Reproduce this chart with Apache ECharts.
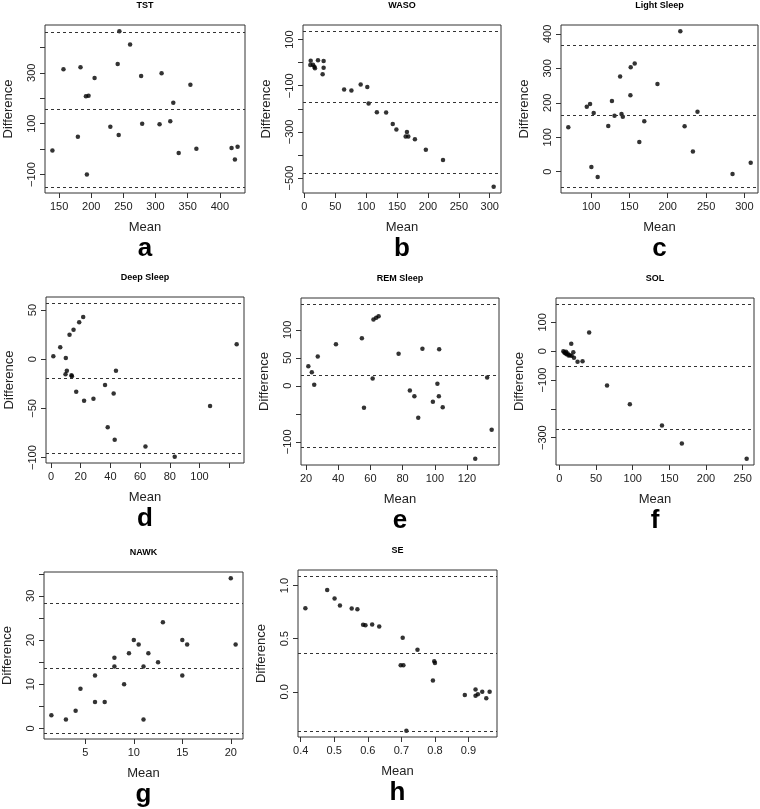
<!DOCTYPE html>
<html><head><meta charset="utf-8">
<script src="https://cdn.jsdelivr.net/npm/echarts@6/dist/echarts.min.js"></script>
<style>html,body{margin:0;padding:0;background:#fff}#c{width:760px;height:809px}</style>
</head><body><div id="c"></div>
<script>
// ---------- data ----------
const panelTitles  = ['TST','WASO','Light Sleep','Deep Sleep','REM Sleep','SOL','NAWK','SE'];
const panelLetters = ['a','b','c','d','e','f','g','h'];
const xAxisName = 'Mean';
const yAxisName = 'Difference';

// a: TST
const tstMean = [139.6,156.8,179.2,183.3,191.7,195.8,193.2,205.2,229.7,241.1,243.75,242.7,260.4,277.6,279.2,306.25,309.4,322.9,327.6,336.0,354.2,363.5,418.2,423.4,427.6];
const tstDiff = [-4.9,313.8,48.9,321.6,207.5,210.2,-99.3,279.7,88.2,334.8,463.3,55.4,410.8,287.5,100.0,97.4,298.0,109.2,182.6,-15.4,253.4,1.6,4.3,-40.3,9.5];
const tstLoA  = [460.7,156.4,-147.9];
const tstXTicks = [150,200,250,300,350,400], tstXLabels = [150,200,250,300,350,400];
const tstYTicks = [-100,0,100,200,300,400],  tstYLabels = [-100,100,300];

// b: WASO
const wasoMean = [10.2,9.6,13.9,16.1,17.1,22.0,31.1,31.1,29.5,64.3,76.1,91.1,101.8,103.9,117.3,132.3,143.0,148.9,166.0,163.9,168.2,178.9,196.6,224.4,306.4];
const wasoDiff = [8.7,-10.1,-8.7,-17.4,-24.6,10.1,7.2,-21.7,-50.7,-115.9,-120.3,-94.2,-105.8,-176.8,-214.5,-215.9,-265.2,-289.9,-300.0,-320.3,-320.3,-331.9,-376.8,-421.7,-537.7];
const wasoLoA  = [136.2,-172.5,-481.2];
const wasoXTicks = [0,50,100,150,200,250,300], wasoXLabels = [0,50,100,150,200,250,300];
const wasoYTicks = [-500,-400,-300,-200,-100,0,100], wasoYLabels = [-500,-300,-100,100];

// c: Light Sleep
const lightMean = [70.3,94.4,98.7,103.4,100.4,108.6,122.4,127.2,130.6,137.9,139.7,141.4,151.3,151.7,156.9,162.9,169.4,186.6,216.4,222.0,232.8,238.8,284.5,308.2];
const lightDiff = [128.8,188.9,196.6,170.5,13.6,-15.5,132.7,205.3,162.7,276.0,167.6,159.8,221.8,303.1,313.8,86.2,146.2,254.7,407.7,131.7,59.1,174.3,-6.8,26.1];
const lightLoA  = [368.0,163.7,-43.6];
const lightXTicks = [100,150,200,250,300], lightXLabels = [100,150,200,250,300];
const lightYTicks = [0,100,200,300,400],   lightYLabels = [0,100,200,300,400];

// d: Deep Sleep
const deepMean = [1.6,6.25,10.0,9.8,10.7,12.5,13.8,14.1,15.2,17.0,19.0,21.7,22.3,28.6,36.4,38.2,42.2,42.9,43.75,63.6,83.3,107.1,125.0];
const deepDiff = [3.0,12.1,1.3,-15.4,-11.7,24.8,-16.4,-17.4,29.9,-33.2,37.6,43.0,-42.3,-40.3,-26.2,-69.1,-34.9,-81.9,-11.7,-88.9,-99.3,-47.7,15.1];
const deepLoA  = [57.0,-19.5,-95.6];
const deepXTicks = [0,20,40,60,80,100,120], deepXLabels = [0,20,40,60,80,100];
const deepYTicks = [-100,-50,0,50],         deepYLabels = [-100,-50,0,50];

// e: REM Sleep
const remMean = [21.45,23.6,25.1,27.3,38.6,54.7,56.0,61.4,61.9,63.6,65.1,77.5,84.5,87.3,89.7,92.3,98.8,101.6,102.5,102.7,104.9,125.1,132.5,135.3];
const remDiff = [35.1,24.4,1.8,52.4,74.4,85.1,-39.3,13.1,118.5,121.4,124.4,57.1,-8.3,-18.5,-57.1,66.1,-28.6,3.6,-18.5,65.5,-38.1,-130.4,14.9,-78.6];
const remLoA  = [145.8,18.5,-109.5];
const remXTicks = [20,40,60,80,100,120], remXLabels = [20,40,60,80,100,120];
const remYTicks = [-100,-50,0,50,100],   remYLabels = [-100,0,50,100];

// f: SOL
const solMean = [5.4,6.8,8.1,9.0,9.9,11.3,12.6,14.4,16.2,16.7,19.0,19.9,24.8,31.6,40.6,65.0,96.1,139.9,167.0,255.4];
const solDiff = [0.0,-4.6,-6.9,-2.3,-10.4,-8.1,-15.0,-13.9,25.4,-16.2,-3.5,-23.1,-37.0,-34.7,64.7,-119.1,-183.8,-257.8,-320.2,-373.4];
const solLoA  = [163.0,-53.2,-270.5];
const solXTicks = [0,50,100,150,200,250], solXLabels = [0,50,100,150,200,250];
const solYTicks = [-300,-200,-100,0,100], solYLabels = [-300,-100,0,100];

// g: NAWK
const nawkMean = [1.5,3,4,4.5,6,6,7,8,8,9,9.5,10,10.5,11,11,11.5,12.5,13,15,15,15.5,20,20.5];
const nawkDiff = [3,2,4,9,12,6,6,16,14,10,17,20,19,14,2,17,15,24,20,12,19,34,19];
const nawkLoA  = [28.4,13.7,-1.0];
const nawkXTicks = [5,10,15,20], nawkXLabels = [5,10,15,20];
const nawkYTicks = [0,5,10,15,20,25,30,35], nawkYLabels = [0,10,20,30];

// h: SE
const seMean = [0.414,0.479,0.501,0.517,0.552,0.569,0.586,0.593,0.613,0.634,0.704,0.698,0.706,0.748,0.794,0.798,0.800,0.715,0.889,0.921,0.921,0.928,0.941,0.953,0.963];
const seDiff = [0.787,0.959,0.878,0.812,0.784,0.777,0.630,0.627,0.633,0.614,0.508,0.251,0.251,0.395,0.107,0.288,0.270,-0.367,-0.031,0.022,-0.038,-0.022,0.000,-0.060,0.000];
const seLoA  = [1.088,0.364,-0.367];
const seXTicks = [0.4,0.5,0.6,0.7,0.8,0.9], seXLabels = [0.4,0.5,0.6,0.7,0.8,0.9];
const seYTicks = [0.0,0.5,1.0],             seYLabels = [0.0,0.5,1.0];

// ---------- layout (pixel boxes of each plot region) ----------
const boxes = [
  {l:45, t:25, w:200, h:168}, {l:303, t:25, w:198, h:168}, {l:561, t:25, w:197, h:168},
  {l:46, t:297, w:198, h:166}, {l:301, t:298, w:198, h:167}, {l:556, t:298, w:198, h:167},
  {l:44, t:572, w:199, h:167}, {l:298, t:570, w:199, h:167}
];

const panels = [
  {m:tstMean,  d:tstDiff,  loa:tstLoA,  xt:tstXTicks,  xl:tstXLabels,  yt:tstYTicks,  yl:tstYLabels,  xdec:0, ydec:0},
  {m:wasoMean, d:wasoDiff, loa:wasoLoA, xt:wasoXTicks, xl:wasoXLabels, yt:wasoYTicks, yl:wasoYLabels, xdec:0, ydec:0},
  {m:lightMean,d:lightDiff,loa:lightLoA,xt:lightXTicks,xl:lightXLabels,yt:lightYTicks,yl:lightYLabels,xdec:0, ydec:0},
  {m:deepMean, d:deepDiff, loa:deepLoA, xt:deepXTicks, xl:deepXLabels, yt:deepYTicks, yl:deepYLabels, xdec:0, ydec:0},
  {m:remMean,  d:remDiff,  loa:remLoA,  xt:remXTicks,  xl:remXLabels,  yt:remYTicks,  yl:remYLabels,  xdec:0, ydec:0},
  {m:solMean,  d:solDiff,  loa:solLoA,  xt:solXTicks,  xl:solXLabels,  yt:solYTicks,  yl:solYLabels,  xdec:0, ydec:0},
  {m:nawkMean, d:nawkDiff, loa:nawkLoA, xt:nawkXTicks, xl:nawkXLabels, yt:nawkYTicks, yl:nawkYLabels, xdec:0, ydec:0},
  {m:seMean,   d:seDiff,   loa:seLoA,   xt:seXTicks,   xl:seXLabels,   yt:seYTicks,   yl:seYLabels,   xdec:1, ydec:1}
];

const FONT = 'Liberation Sans, Arial, Helvetica, sans-serif';
const INK = '#222';

function ext(vals) { // R-style 4% axis extension
  const lo = Math.min(...vals), hi = Math.max(...vals), r = hi - lo;
  return [lo - 0.04 * r, hi + 0.04 * r];
}
function fmt(dec) {
  return v => (dec ? Number(v).toFixed(dec) : String(Math.round(v))).replace('-', '\u2212');
}

const grid = [], xAxis = [], yAxis = [], series = [], graphic = [];
panels.forEach((p, i) => {
  const b = boxes[i];
  grid.push({left:b.l, top:b.t, width:b.w, height:b.h, show:true, borderColor:'#333', borderWidth:1,
             backgroundColor:'transparent', containLabel:false, outerBoundsMode:'none'});
  const [x0, x1] = ext(p.m);
  const [y0, y1] = ext(p.d.concat(p.loa));
  xAxis.push({type:'value', gridIndex:i, min:x0, max:x1, position:'bottom',
    name:xAxisName, nameLocation:'middle', nameGap:28,
    nameTextStyle:{fontFamily:FONT, fontSize:13, color:INK},
    axisLine:{show:false, onZero:false}, splitLine:{show:false},
    axisTick:{show:true, inside:false, length:5, lineStyle:{color:'#333'}, customValues:p.xt},
    axisLabel:{show:true, margin:8, fontFamily:FONT, fontSize:11, color:INK, customValues:p.xl, formatter:fmt(p.xdec), hideOverlap:false}
  });
  yAxis.push({type:'value', gridIndex:i, min:y0, max:y1, position:'left',
    name:yAxisName, nameLocation:'middle', nameGap:30, nameRotate:90,
    nameTextStyle:{fontFamily:FONT, fontSize:13, color:INK},
    axisLine:{show:false, onZero:false}, splitLine:{show:false},
    axisTick:{show:true, inside:false, length:5, lineStyle:{color:'#333'}, customValues:p.yt},
    axisLabel:{show:true, rotate:90, margin:8, fontFamily:FONT, fontSize:11, color:INK, customValues:p.yl, formatter:fmt(p.ydec), hideOverlap:false}
  });
  series.push({type:'scatter', xAxisIndex:i, yAxisIndex:i, symbol:'circle', symbolSize:4.5,
    itemStyle:{color:'#000'}, silent:true, animation:false,
    data:p.m.map((v, k) => [v, p.d[k]]),
    markLine:{silent:true, symbol:'none', animation:false, label:{show:false},
      lineStyle:{type:[3,3], color:'#333', width:1},
      data:p.loa.map(v => ({yAxis:v}))}
  });
  graphic.push({type:'text', x:b.l + b.w / 2, y:b.t - 19,
    style:{text:panelTitles[i], font:'bold 9px ' + FONT, fill:'#000', textAlign:'center', textVerticalAlign:'middle'}});
  graphic.push({type:'text', x:b.l + b.w / 2, y:b.t + b.h + 56,
    style:{text:panelLetters[i], font:'bold 26px ' + FONT, fill:'#000', textAlign:'center', textVerticalAlign:'middle'}});
});

const chart = echarts.init(document.getElementById('c'), null, {renderer:'canvas'});
chart.setOption({backgroundColor:'#fff', animation:false, grid, xAxis, yAxis, series, graphic});
</script>
</body></html>
